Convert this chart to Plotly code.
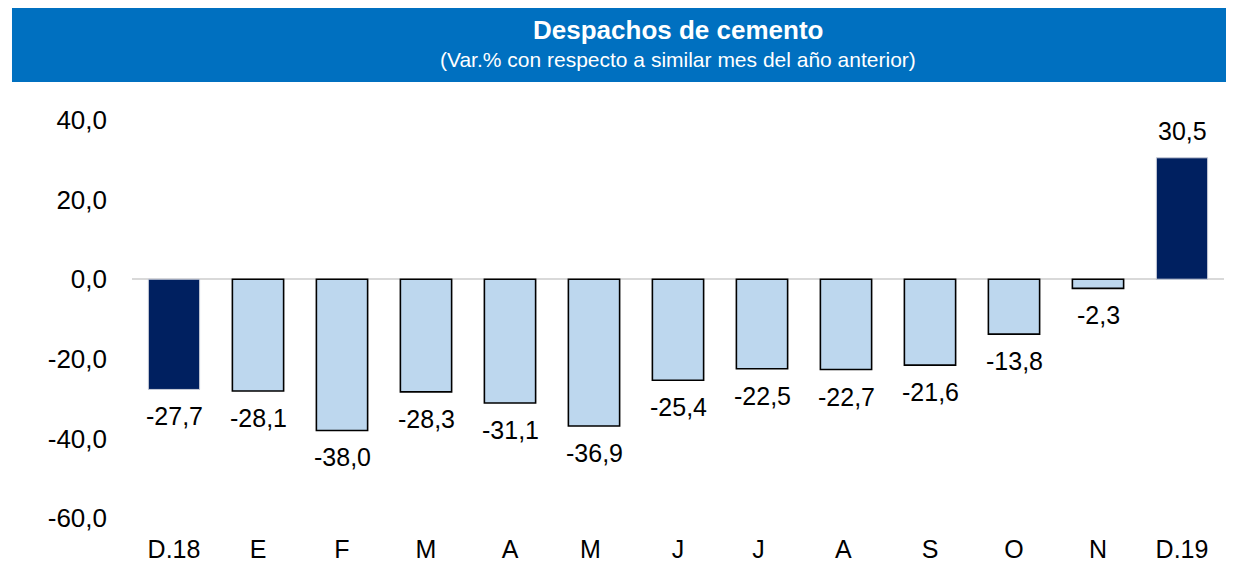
import plotly.graph_objects as go

categories = ["D.18", "E", "F", "M", "A", "M ", "J", "J ", "A ", "S", "O", "N", "D.19"]
values = [-27.7, -28.1, -38.0, -28.3, -31.1, -36.9, -25.4, -22.5, -22.7, -21.6, -13.8, -2.3, 30.5]
highlight = [True] + [False] * 11 + [True]
y_ticks = [-60, -40, -20, 0, 20, 40]

DARK = "#002060"
LIGHT = "#BDD7EE"
FONT = "Liberation Sans, Arial"


def fmt(v):
    return f"{v:.1f}".replace(".", ",")


fill = [DARK if h else LIGHT for h in highlight]
line_col = ["#C8CCD8" if h else "#000000" for h in highlight]
line_w = [1 if h else 1.6 for h in highlight]

fig = go.Figure()
fig.add_trace(go.Bar(
    x=categories, y=values,
    marker=dict(color=fill, line=dict(color=line_col, width=line_w)),
    width=0.61,
    hoverinfo="skip",
))

for c, v in zip(categories, values):
    fig.add_annotation(
        x=c, y=v, text=fmt(v),
        showarrow=False,
        yanchor="bottom" if v >= 0 else "top",
        yshift=11 if v >= 0 else -11,
        font=dict(size=25, color="#000000", family=FONT),
    )

# title banner
fig.add_shape(type="rect", xref="paper", yref="paper",
              x0=-0.1099, x1=1.0037, y0=1.0955, y1=1.30,
              fillcolor="#0070C0", line=dict(width=0), layer="below")
fig.add_annotation(xref="paper", yref="paper", x=0.5, y=(510 - 22) / 398,
                   text="<b>Despachos de cemento</b>", showarrow=False,
                   xanchor="center", yanchor="middle",
                   font=dict(size=26, color="white", family=FONT))
fig.add_annotation(xref="paper", yref="paper", x=0.5, y=(510 - 51) / 398,
                   text="(Var.% con respecto a similar mes del año anterior)", showarrow=False,
                   xanchor="center", yanchor="middle",
                   font=dict(size=21, color="white", family=FONT))

fig.update_layout(
    width=1226, height=556,
    margin=dict(l=124, r=10, t=112, b=46),
    paper_bgcolor="white", plot_bgcolor="white",
    showlegend=False,
    font=dict(family=FONT, size=25, color="#000000"),
    xaxis=dict(showline=False, showgrid=False, ticks="", tickfont=dict(size=25),
               ticklabelstandoff=14, fixedrange=True, automargin=False),
    yaxis=dict(range=[-60, 40], tickvals=y_ticks, ticktext=[fmt(t) for t in y_ticks],
               showgrid=False, showline=False, zeroline=True, zerolinecolor="#D9D9D9",
               zerolinewidth=2, ticklabelstandoff=24, tickfont=dict(size=26), fixedrange=True,
               automargin=False),
)

fig.write_html("out.html")
